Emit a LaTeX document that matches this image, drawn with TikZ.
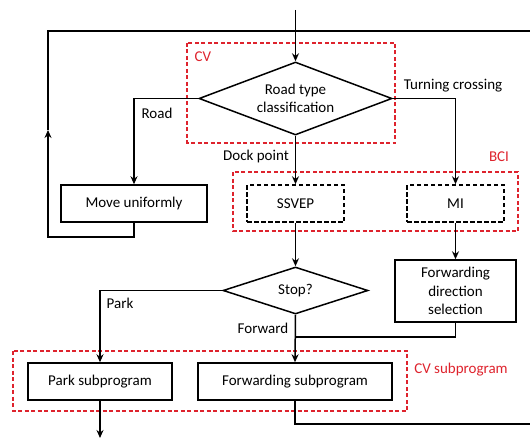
\documentclass[tikz,border=0pt]{standalone}
\usepackage{fontspec}
\setmainfont{Carlito}
\usetikzlibrary{shapes.geometric,arrows.meta}
\definecolor{cvred}{RGB}{222,35,45}
\tikzset{
  line/.style={line width=1.5pt,black},
  arrow/.style={line,-{Stealth[length=8pt,width=7pt]}},
  block/.style={draw,line width=1.5pt,minimum height=37pt,inner sep=0pt,align=center,font=\fontsize{15}{18.5}\selectfont},
  dblock/.style={block,dash pattern=on 4.5pt off 2.5pt,minimum width=97pt},
  decision/.style={draw,line width=1.5pt,diamond,inner sep=0pt,align=center,font=\fontsize{15}{18}\selectfont},
  group/.style={cvred,line width=1.3pt,dash pattern=on 4pt off 2.5pt},
  lbl/.style={inner sep=0pt,font=\fontsize{15}{18}\selectfont},
  grouplbl/.style={lbl,text=cvred}
}
\begin{document}
\begin{tikzpicture}[x=1pt,y=-1pt]
\useasboundingbox (0,0) rectangle (530,441);
% groups
	\draw[group] (187,43) rectangle (395,143);
	\node[grouplbl] (cvlbl) at (203,57) {CV};
	\draw[group] (233,172) rectangle (518,231);
	\node[grouplbl] (bcilbl) at (499,157) {BCI};
	\draw[group] (13,351) rectangle (407,411);
	\node[grouplbl] (cvsublbl) at (461,370) {CV subprogram};

% steps
	\node[decision,shape aspect=2.64,minimum width=193pt,minimum height=73pt] (road) at (295.5,98.5) {Road type\\classification};
	\node[block,minimum width=146pt] (move) at (134,203.5) {Move uniformly};
	\node[dblock] (ssvep) at (295.5,203.5) {SSVEP};
	\node[dblock] (mi) at (455.5,203.5) {MI};
	\node[decision,shape aspect=3.08,minimum width=145pt,minimum height=47pt] (stop) at (295.5,290.5) {Stop?};
	\node[block,minimum width=121pt,minimum height=62pt] (fds) at (455.5,291) {Forwarding\\direction\\selection};
	\node[block,minimum width=144pt] (park) at (100,381.5) {Park subprogram};
	\node[block,minimum width=194pt] (fwd) at (295,381.5) {Forwarding subprogram};

% labels
	\node[lbl] (roadlbl) at (157,113) {Road};
	\node[lbl] (turnlbl) at (453,86) {Turning crossing};
	\node[lbl] (docklbl) at (256,157) {Dock point};
	\node[lbl] (parklbl) at (120,303) {Park};
	\node[lbl] (fwdlbl) at (263,328) {Forward};

% points
	\coordinate (start) at (295.5,10);
	\coordinate (top) at (295.5,31);
	\coordinate (loopl) at (48,237);
	\coordinate (loopm) at (48,130);
	\coordinate (loopr) at (540,424);
	\coordinate (join) at (295.5,337);
	\coordinate (finish) at (100,438);

%Links
	\draw[arrow] (start) -- (road.north);
	\draw[arrow] (road.west) -| (move.north);
	\draw[arrow] (road.east) -| (mi.north);
	\draw[arrow] (road.south) -- (ssvep.north);
	\draw[arrow] (ssvep.south) -- (stop.north);
	\draw[arrow] (mi.south) -- (fds.north);
	\draw[arrow] (stop.west) -| (park.north);
	\draw[arrow] (stop.south) -- (fwd.north);
	\draw[line] (fds.south) |- (join);
	\draw[arrow] (park.south) -- (finish);

	% loops back to the top
	\draw[arrow] (move.south) |- (loopl) -- (loopm);
	\draw[line] (loopm) |- (top);
	\draw[line] (fwd.south) |- (loopr) |- (top);
\end{tikzpicture}
\end{document}
